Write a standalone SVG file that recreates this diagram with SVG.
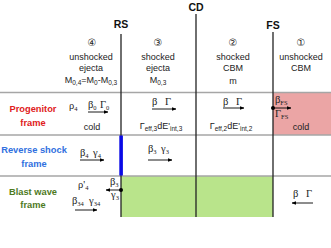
<svg xmlns="http://www.w3.org/2000/svg" width="331" height="248" viewBox="0 0 331 248">
<defs>
<marker id="ah" viewBox="0 0 10 10" refX="9" refY="5" markerWidth="5.5" markerHeight="5.5" orient="auto"><path d="M0,1 L10,5 L0,9 z" fill="#000"/></marker>
</defs>
<style>
.t{font-family:"Liberation Sans",Arial,sans-serif;font-size:9px;fill:#222;text-anchor:middle}
.n{font-family:"DejaVu Sans",sans-serif;font-size:10px;fill:#222;text-anchor:middle}
.g{font-family:"Liberation Serif","Times New Roman",serif;font-size:10.5px;fill:#222}
.s{font-size:6.5px;baseline-shift:-2px}
.hd{font-family:"Liberation Sans",Arial,sans-serif;font-weight:bold;font-size:10.5px;fill:#111;text-anchor:middle}
.rl{font-family:"Liberation Sans",Arial,sans-serif;font-weight:bold;font-size:9.3px;text-anchor:middle}
.grid{stroke:#a6a6a6;stroke-width:1.5;fill:none}
.shock{stroke:#222;stroke-width:1.3;fill:none}
.arr{stroke:#000;stroke-width:0.9;fill:none;marker-end:url(#ah)}
</style>
<g id="background">
<rect x="273" y="93" width="58" height="42" fill="#eba5a5"/>
<rect x="121" y="176" width="152" height="41" fill="#b9e48b"/>
</g>
<g id="grid">
<line class="grid" x1="0" y1="92.5" x2="331" y2="92.5"/>
<line class="grid" x1="0" y1="135" x2="331" y2="135"/>
<line class="grid" x1="0" y1="176" x2="331" y2="176"/>
</g>
<g id="RS">
<line class="shock" x1="121" y1="34" x2="121" y2="217"/>
<rect x="119.3" y="135.5" width="3.6" height="40" fill="#0a0ae6"/>
<text class="hd" x="121" y="28">RS</text>
</g>
<g id="CD">
<line class="shock" x1="196" y1="14" x2="196" y2="217"/>
<text class="hd" x="196" y="11">CD</text>
</g>
<g id="FS">
<line class="shock" x1="273" y1="32" x2="273" y2="217"/>
<text class="hd" x="273" y="29">FS</text>
</g>
<g id="col4">
<text class="n" x="92" y="46">④</text>
<text class="t" x="91" y="60">unshocked</text>
<text class="t" x="91" y="71">ejecta</text>
<text class="t" x="91" y="83">M<tspan class="s">0,4</tspan>=M<tspan class="s">0</tspan>-M<tspan class="s">0,3</tspan></text>
</g>
<g id="col3">
<text class="n" x="158" y="46">③</text>
<text class="t" x="158" y="60">shocked</text>
<text class="t" x="158" y="71">ejecta</text>
<text class="t" x="158" y="83">M<tspan class="s">0,3</tspan></text>
</g>
<g id="col2">
<text class="n" x="233" y="46">②</text>
<text class="t" x="233" y="60">shocked</text>
<text class="t" x="233" y="71">CBM</text>
<text class="t" x="233" y="84">m</text>
</g>
<g id="col1">
<text class="n" x="301" y="46">①</text>
<text class="t" x="301" y="60">unshocked</text>
<text class="t" x="301" y="71">CBM</text>
</g>
<g id="progenitor-frame">
<text class="rl" x="33" y="112" fill="#e02020">Progenitor</text>
<text class="rl" x="33" y="126" fill="#e02020">frame</text>
<text class="g" x="69" y="109">ρ<tspan class="s">4</tspan></text>
<text class="g" x="88" y="108">β<tspan class="s">0</tspan><tspan x="100">Γ</tspan><tspan class="s">0</tspan></text>
<text class="t" x="92" y="130">cold</text>
<text class="g" x="152" y="105">β<tspan x="165">Γ</tspan></text>
<text class="t" x="161" y="129">Γ<tspan class="s">eff,3</tspan>dE'<tspan class="s">int,3</tspan></text>
<text class="g" x="223" y="105">β<tspan x="236">Γ</tspan></text>
<text class="t" x="231" y="129">Γ<tspan class="s">eff,2</tspan>dE'<tspan class="s">int,2</tspan></text>
<text class="g" x="275" y="103">β<tspan class="s">FS</tspan></text>
<text class="g" x="275" y="117">Γ<tspan class="s">FS</tspan></text>
<text class="t" x="301" y="130">cold</text>
</g>
<g id="reverse-shock-frame">
<text class="rl" x="34" y="153" fill="#3070e0">Reverse shock</text>
<text class="rl" x="34" y="167" fill="#3070e0">frame</text>
<text class="g" x="80" y="156">β<tspan class="s">4</tspan><tspan x="93">γ</tspan><tspan class="s">4</tspan></text>
<text class="g" x="148" y="152">β<tspan class="s">3</tspan><tspan x="161">γ</tspan><tspan class="s">3</tspan></text>
</g>
<g id="blast-wave-frame">
<text class="rl" x="33" y="195" fill="#4e7a1e">Blast wave</text>
<text class="rl" x="33" y="208" fill="#4e7a1e">frame</text>
<text class="g" x="78" y="188">ρ'<tspan class="s">4</tspan></text>
<text class="g" x="72" y="204">β<tspan class="s">34</tspan><tspan x="89">γ</tspan><tspan class="s">34</tspan></text>
<text class="g" x="110" y="185">β<tspan class="s">3</tspan></text>
<text class="g" x="111" y="198">γ<tspan class="s">3</tspan></text>
<text class="g" x="293" y="197">β<tspan x="306">Γ</tspan></text>
</g>
<g id="connectors">
<line class="arr" x1="88" y1="112" x2="108" y2="112"/>
<line class="arr" x1="152" y1="109" x2="176" y2="109"/>
<line class="arr" x1="223" y1="108" x2="244" y2="108"/>
<circle cx="273" cy="108" r="2" fill="#000"/>
<line class="arr" x1="273" y1="108" x2="291" y2="108"/>
<line class="arr" x1="80" y1="160" x2="104" y2="160"/>
<line class="arr" x1="148" y1="160" x2="172" y2="160"/>
<line class="arr" x1="75" y1="210" x2="97" y2="210"/>
<circle cx="121" cy="190" r="2" fill="#000"/>
<line class="arr" x1="121" y1="190" x2="106" y2="190"/>
<line class="arr" x1="313" y1="203" x2="292" y2="203"/>
</g>
</svg>
